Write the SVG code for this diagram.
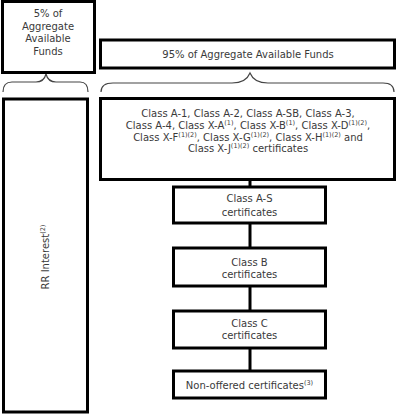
<svg xmlns="http://www.w3.org/2000/svg" width="400" height="416" viewBox="0 0 400 416">
<style>
.box{fill:#fff;stroke:#000;stroke-width:3}
.t{font-family:"DejaVu Sans",Verdana,sans-serif;font-size:10px;fill:#3a3a3a;text-anchor:middle}
.sup{font-size:6.5px}
.brace{fill:none;stroke:#444;stroke-width:1.2}
.conn{stroke:#000;stroke-width:3;fill:none}
</style>
<rect width="400" height="416" fill="#fff"/>
<g id="connectors">
<line class="conn" x1="250" y1="180" x2="250" y2="187"/>
<line class="conn" x1="250" y1="223" x2="250" y2="248"/>
<line class="conn" x1="250" y1="286" x2="250" y2="311"/>
<line class="conn" x1="250" y1="348" x2="250" y2="371"/>
<path class="brace" d="M3,92 Q3,82 12,82 L36,82 Q44,82 46,74 Q48,82 56,82 L80,82 Q88,82 88,92"/>
<path class="brace" d="M101,92 Q101,83 113,83 L232,83 Q246,83 250,73 Q254,83 268,83 L383,83 Q394,83 394,92"/>
</g>
<g id="n5pct">
<rect class="box" x="2.5" y="1.5" width="92" height="71"/>
<text class="t" x="48" y="17">5% of</text>
<text class="t" x="48" y="29.5">Aggregate</text>
<text class="t" x="48" y="42">Available</text>
<text class="t" x="48" y="54.5">Funds</text>
</g>
<g id="n95pct">
<rect class="box" x="100.5" y="40" width="294" height="28"/>
<text class="t" x="248" y="57.5">95% of Aggregate Available Funds</text>
</g>
<g id="nRR">
<rect class="box" x="3.5" y="99" width="84" height="313"/>
<text class="t" transform="translate(45,257) rotate(-90)" x="0" y="3.5">RR Interest<tspan class="sup" dy="-4">(2)</tspan></text>
</g>
<g id="nA1">
<rect class="box" x="100.5" y="98.5" width="294" height="81"/>
<text class="t" x="248" y="117">Class A-1, Class A-2, Class A-SB, Class A-3,</text>
<text class="t" x="248" y="129">Class A-4, Class X-A<tspan class="sup" dy="-4">(1)</tspan><tspan dy="4">, Class X-B</tspan><tspan class="sup" dy="-4">(1)</tspan><tspan dy="4">, Class X-D</tspan><tspan class="sup" dy="-4">(1)(2)</tspan><tspan dy="4">,</tspan></text>
<text class="t" x="248" y="140.5">Class X-F<tspan class="sup" dy="-4">(1)(2)</tspan><tspan dy="4">, Class X-G</tspan><tspan class="sup" dy="-4">(1)(2)</tspan><tspan dy="4">, Class X-H</tspan><tspan class="sup" dy="-4">(1)(2)</tspan><tspan dy="4"> and</tspan></text>
<text class="t" x="248" y="152">Class X-J<tspan class="sup" dy="-4">(1)(2)</tspan><tspan dy="4"> certificates</tspan></text>
</g>
<g id="nAS">
<rect class="box" x="173.5" y="187" width="152" height="36"/>
<text class="t" x="249.5" y="202">Class A-S</text>
<text class="t" x="249.5" y="215.5">certificates</text>
</g>
<g id="nB">
<rect class="box" x="173.5" y="248" width="152" height="38"/>
<text class="t" x="249.5" y="265.5">Class B</text>
<text class="t" x="249.5" y="277.5">certificates</text>
</g>
<g id="nC">
<rect class="box" x="173.5" y="311" width="152" height="37"/>
<text class="t" x="249.5" y="326.5">Class C</text>
<text class="t" x="249.5" y="338.5">certificates</text>
</g>
<g id="nNon">
<rect class="box" x="173.5" y="371" width="152" height="27"/>
<text class="t" x="249.5" y="388.5">Non-offered certificates<tspan class="sup" dy="-4">(3)</tspan></text>
</g>
</svg>
